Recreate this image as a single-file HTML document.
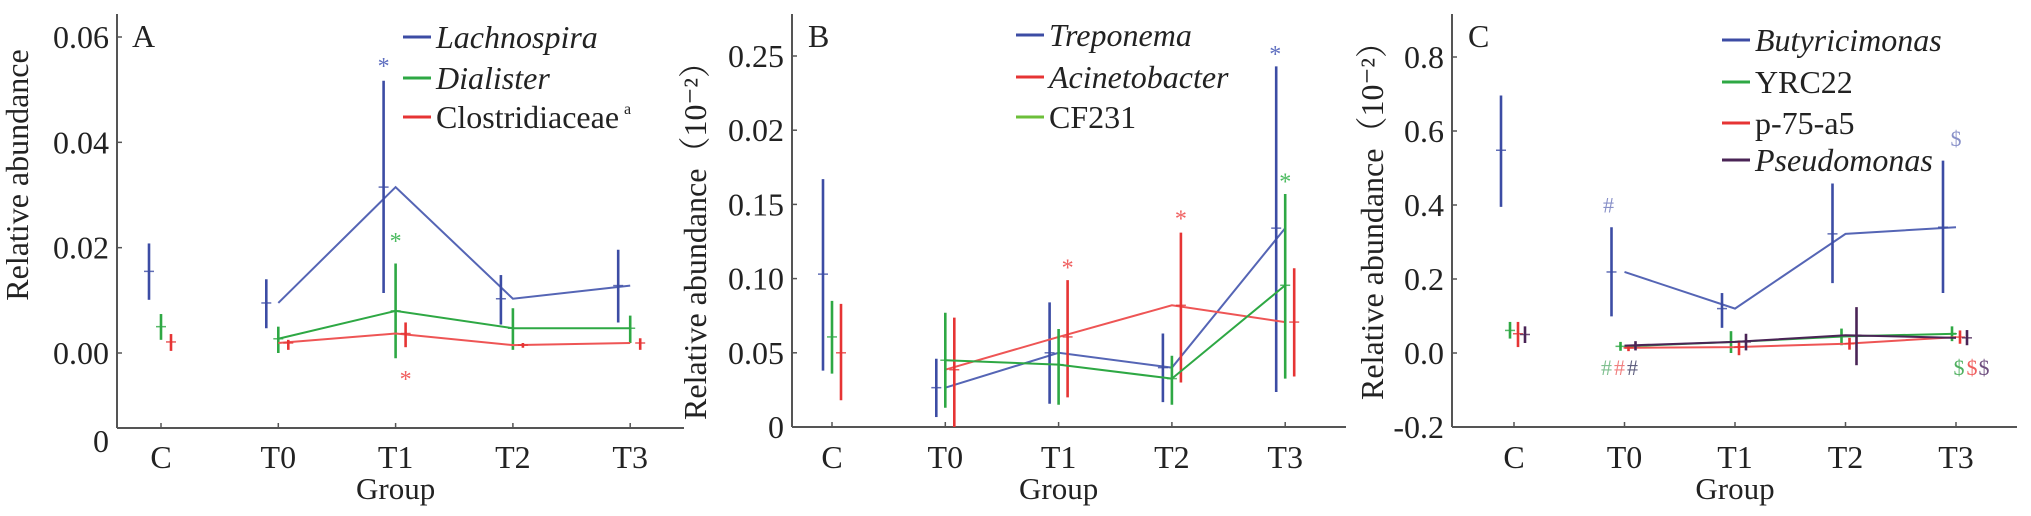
<!DOCTYPE html>
<html><head><meta charset="utf-8">
<style>
html,body{margin:0;padding:0;background:#fff;}
svg{display:block;font-family:"Liberation Serif","Noto Serif CJK SC",serif;}
</style></head>
<body>
<svg id="chart" width="2031" height="516" viewBox="0 0 2031 516" xmlns="http://www.w3.org/2000/svg"></svg>
<script>
const categories = ["C","T0","T1","T2","T3"];

// Panel A
const aTicks = [0, 0.02, 0.04, 0.06];
const aTickLabels = ["0.00","0.02","0.04","0.06"];
const aLachMean = [0.0155,0.0095,0.0315,0.0103,0.0128];
const aLachLow  = [0.0101,0.0047,0.0114,0.0054,0.0058];
const aLachHigh = [0.0208,0.0140,0.0517,0.0148,0.0196];
const aDialMean = [0.0050,0.0027,0.0080,0.0047,0.0047];
const aDialLow  = [0.0025,0.0000,-0.0010,0.0006,0.0019];
const aDialHigh = [0.0074,0.0050,0.0170,0.0085,0.0071];
const aClosMean = [0.0021,0.0019,0.0037,0.0015,0.0019];
const aClosLow  = [0.0004,0.0006,0.0011,0.0010,0.0006];
const aClosHigh = [0.0036,0.0025,0.0058,0.0019,0.0028];

// Panel B
const bTicks = [0, 0.05, 0.10, 0.15, 0.20, 0.25];
const bTickLabels = ["0","0.05","0.10","0.15","0.02","0.25"];
const bTrepMean = [0.103,0.0265,0.050,0.040,0.134];
const bTrepLow  = [0.038,0.0067,0.0157,0.0168,0.0236];
const bTrepHigh = [0.167,0.046,0.084,0.063,0.243];
const bAcinMean = [0.050,0.0386,0.0607,0.082,0.0707];
const bAcinLow  = [0.018,0.0,0.020,0.030,0.034];
const bAcinHigh = [0.083,0.0737,0.099,0.131,0.107];
const bCfMean = [0.0607,0.045,0.042,0.0326,0.0955];
const bCfLow  = [0.036,0.013,0.015,0.015,0.0326];
const bCfHigh = [0.085,0.077,0.066,0.048,0.157];

// Panel C
const cTicks = [-0.2, 0.0, 0.2, 0.4, 0.6, 0.8];
const cTickLabels = ["-0.2","0.0","0.2","0.4","0.6","0.8"];
const cButMean = [0.548,0.219,0.120,0.322,0.340];
const cButLow  = [0.395,0.099,0.068,0.189,0.162];
const cButHigh = [0.696,0.340,0.162,0.458,0.520];
const cYrcMean = [0.061,0.018,0.030,0.045,0.052];
const cYrcLow  = [0.039,0.006,0.000,0.021,0.032];
const cYrcHigh = [0.084,0.030,0.059,0.066,0.072];
const cP75Mean = [0.052,0.014,0.016,0.025,0.043];
const cP75Low  = [0.016,0.005,-0.006,0.009,0.025];
const cP75High = [0.084,0.023,0.034,0.041,0.061];
const cPseMean = [0.050,0.020,0.030,0.048,0.041];
const cPseLow  = [0.027,0.007,0.007,-0.033,0.021];
const cPseHigh = [0.072,0.032,0.052,0.124,0.062];

const svg = document.getElementById('chart');
const NS = "http://www.w3.org/2000/svg";
function mk(tag, attrs, parent){
  const e = document.createElementNS(NS, tag);
  for (const k in attrs) e.setAttribute(k, attrs[k]);
  (parent||svg).appendChild(e);
  return e;
}

const BLUE="#3c4ca4", GREEN="#2ea844", RED="#e63434", PURPLE="#4a2456", LGREEN="#6cbf3a";
const FS = 32;

function panel(p){
  const g = mk('g',{});
  
  
  const y = v => p.y0 + (v - p.v0) / (p.v1 - p.v0) * (p.y1 - p.y0);
  const x = i => p.xs0 + i * p.dx;
  const ax = mk('line',{x1:p.ax,y1:p.axisTop,x2:p.ax,y2:p.axisY,stroke:"#555","stroke-width":2},g);
   
  const xl = mk('line',{x1:p.ax,y1:p.axisY,x2:p.axisEnd,y2:p.axisY,stroke:"#555","stroke-width":2},g);
   
  p.ticks.forEach((t,i)=>{
    const yy = y(t);
    mk('line',{x1:p.ax,y1:yy,x2:p.ax+5,y2:yy,stroke:"#555","stroke-width":1.5},g);
    const tl = mk('text',{x:p.ax-8,y:yy+11,"text-anchor":"end","font-size":FS,fill:"#222"},g);
    tl.textContent = p.tickLabels[i];
     
  });
  if (p.bottomLabel){
    const bl = mk('text',{x:p.ax-8,y:p.axisY+24,"text-anchor":"end","font-size":FS,fill:"#222"},g);
    bl.textContent = p.bottomLabel;
     
  }
  categories.forEach((c,i)=>{
    mk('line',{x1:x(i),y1:p.axisY,x2:x(i),y2:p.axisY-5,stroke:"#555","stroke-width":1.5},g);
    const t = mk('text',{x:x(i),y:468,"text-anchor":"middle","font-size":FS,fill:"#222"},g);
    t.textContent = c;
     
  });
  const gt = mk('text',{x:x(2),y:499,"text-anchor":"middle","font-size":FS-1,fill:"#222"},g);
  gt.textContent = "Group";
   
  const yt = mk('text',{x:0,y:0,"text-anchor":"middle","font-size":FS,fill:"#222",transform:`translate(${p.ylx},${p.yly}) rotate(-90)`},g);
  yt.textContent = p.ytitle;
   
  const pl = mk('text',{x:p.letterX,y:47,"font-size":FS,fill:"#222"},g);
  pl.textContent = p.letter;
   
  p.series.forEach(s=>{
    const sg = mk('g',{},g);
    
    
    const pts = [];
    for (let i=1;i<5;i++) pts.push(x(i)+','+y(s.mean[i]));
    const ln = mk('polyline',{points:pts.join(' '),fill:"none",stroke:s.lineColor||s.color,"stroke-width":2},sg);
     
    for (let i=0;i<5;i++){
      const bx = x(i) + s.off;
      const eb = mk('line',{x1:bx,y1:y(s.high[i]),x2:bx,y2:y(s.low[i]),stroke:s.color,"stroke-width":2.6},sg);
       
      const mm = mk('line',{x1:bx-5,y1:y(s.mean[i]),x2:bx+5,y2:y(s.mean[i]),stroke:s.color,"stroke-width":1.5,opacity:0.8},sg);
       
    }
  });
  p.series.forEach((s,k)=>{
    const ly = p.legY[k];
    const lg = mk('g',{},g);
     
    mk('line',{x1:p.legX,y1:ly,x2:p.legX+28,y2:ly,stroke:s.legColor||s.color,"stroke-width":3},lg);
    const t = mk('text',{x:p.legX+33,y:ly+11,"font-size":FS,fill:"#222","font-style":s.italic?"italic":"normal"},lg);
    t.textContent = s.label;
    if (s.sup){ const ts = mk('tspan',{"font-size":16,dy:-14,dx:5},t); ts.textContent = s.sup; }
  });
  p.marks.forEach(m=>{
    const t = mk('text',{x:x(m.i)+m.dx,y:y(m.v),"text-anchor":"middle","font-size":m.size||24,fill:m.color},g);
    t.textContent = m.t;
     
  });
}

panel({name:"panel-a",letter:"A",letterX:132,ax:117,axisTop:14,axisY:428,axisEnd:684,
  v0:0,v1:0.06,y0:353,y1:37,xs0:161,dx:117.3,ticks:aTicks,tickLabels:aTickLabels,bottomLabel:"0",
  ylx:28,yly:175,ytitle:"Relative abundance",legX:403,legY:[37,78,117],
  series:[
    {key:"lachnospira",label:"Lachnospira",italic:true,color:BLUE,lineColor:"#5565b5",off:-12,mean:aLachMean,low:aLachLow,high:aLachHigh},
    {key:"dialister",label:"Dialister",italic:true,color:GREEN,off:0,mean:aDialMean,low:aDialLow,high:aDialHigh},
    {key:"clostridiaceae",label:"Clostridiaceae",sup:"a",italic:false,color:RED,lineColor:"#ee5555",off:10,mean:aClosMean,low:aClosLow,high:aClosHigh}],
  marks:[{i:2,dx:-12,v:0.053,t:"*",color:"#6070c0"},{i:2,dx:0,v:0.0197,t:"*",color:"#4cbb60"},{i:2,dx:10,v:-0.0065,t:"*",color:"#f06060"}]});

panel({name:"panel-b",letter:"B",letterX:808,ax:792,axisTop:14,axisY:427,axisEnd:1346,
  v0:0,v1:0.25,y0:427,y1:56,xs0:832,dx:113.3,ticks:bTicks,tickLabels:bTickLabels,
  ylx:706,yly:233,ytitle:"Relative abundance（10⁻²）",legX:1016,legY:[35,77,117],
  series:[
    {key:"treponema",label:"Treponema",italic:true,color:BLUE,lineColor:"#5565b5",off:-9,mean:bTrepMean,low:bTrepLow,high:bTrepHigh},
    {key:"acinetobacter",label:"Acinetobacter",italic:true,color:RED,lineColor:"#ee5555",off:9,mean:bAcinMean,low:bAcinLow,high:bAcinHigh},
    {key:"cf231",label:"CF231",italic:false,color:GREEN,legColor:LGREEN,off:0,mean:bCfMean,low:bCfLow,high:bCfHigh}],
  marks:[{i:2,dx:9,v:0.102,t:"*",color:"#f06060"},{i:3,dx:9,v:0.135,t:"*",color:"#f06060"},
         {i:4,dx:-10,v:0.246,t:"*",color:"#6070c0"},{i:4,dx:0,v:0.16,t:"*",color:"#4cbb60"}]});

panel({name:"panel-c",letter:"C",letterX:1468,ax:1452,axisTop:14,axisY:427,axisEnd:2017,
  v0:0,v1:0.8,y0:353,y1:57,xs0:1514,dx:110.5,ticks:cTicks,tickLabels:cTickLabels,
  ylx:1383,yly:213,ytitle:"Relative abundance（10⁻²）",legX:1722,legY:[40,82,123,160],
  series:[
    {key:"butyricimonas",label:"Butyricimonas",italic:true,color:BLUE,lineColor:"#5565b5",off:-13,mean:cButMean,low:cButLow,high:cButHigh},
    {key:"yrc22",label:"YRC22",italic:false,color:GREEN,off:-4,mean:cYrcMean,low:cYrcLow,high:cYrcHigh},
    {key:"p-75-a5",label:"p-75-a5",italic:false,color:RED,lineColor:"#ee5555",off:4,mean:cP75Mean,low:cP75Low,high:cP75High},
    {key:"pseudomonas",label:"Pseudomonas",italic:true,color:PURPLE,off:11,mean:cPseMean,low:cPseLow,high:cPseHigh}],
  marks:[{i:1,dx:-16,v:0.38,t:"#",color:"#8890c8",size:22},
         {i:1,dx:-18,v:-0.06,t:"#",color:"#80c090",size:22},{i:1,dx:-5,v:-0.06,t:"#",color:"#f08080",size:22},{i:1,dx:8,v:-0.06,t:"#",color:"#606080",size:22},
         {i:4,dx:0,v:0.56,t:"$",color:"#8890c8",size:22},
         {i:4,dx:3,v:-0.06,t:"$",color:"#50b060",size:22},{i:4,dx:16,v:-0.06,t:"$",color:"#f06060",size:22},{i:4,dx:28,v:-0.06,t:"$",color:"#705080",size:22}]});
</script>
</body></html>
